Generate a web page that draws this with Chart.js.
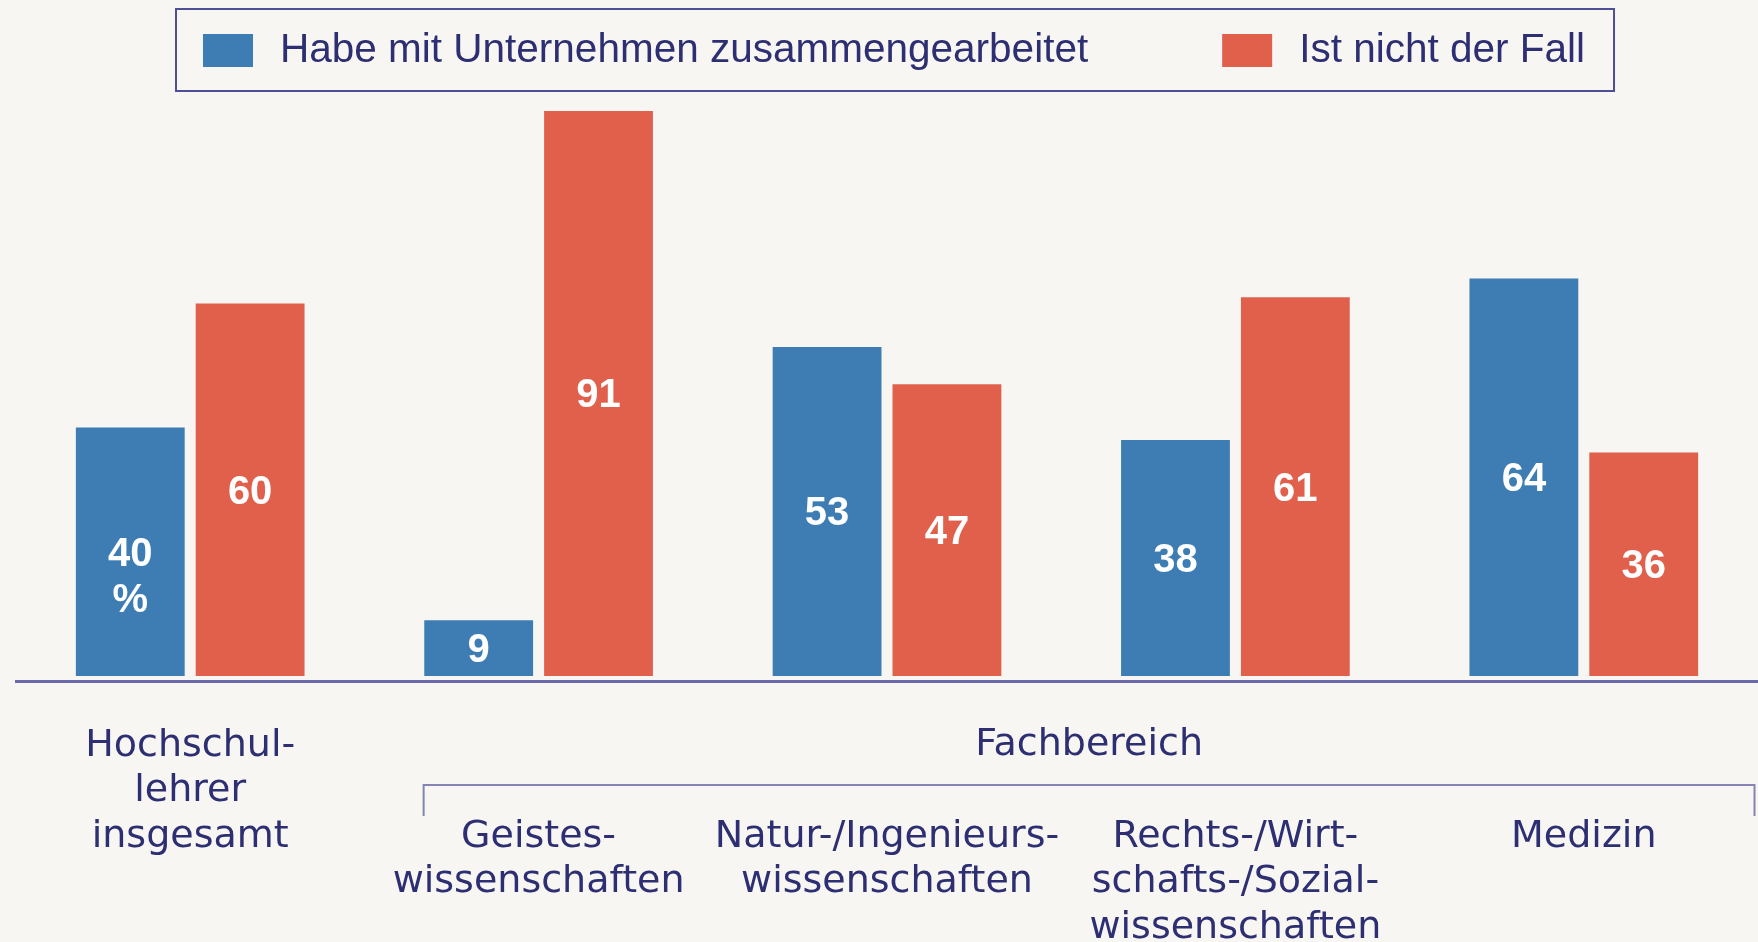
<!DOCTYPE html>
<html>
<head>
<meta charset="utf-8">
<script src="https://cdn.jsdelivr.net/npm/chart.js@4.4.1/dist/chart.umd.min.js"></script>
<style>
html, body { margin: 0; padding: 0; background: #f7f6f2; }
#wrap { width: 1758px; height: 942px; position: relative; }
</style>
</head>
<body>
<div id="wrap"><canvas id="myChart"></canvas></div>
<script>
// data
var categories = [
    ['Hochschul-', 'lehrer', 'insgesamt'],
    ['Geistes-', 'wissenschaften'],
    ['Natur-/Ingenieurs-', 'wissenschaften'],
    ['Rechts-/Wirt-', 'schafts-/Sozial-', 'wissenschaften'],
    ['Medizin']
];
var groupTitle = 'Fachbereich';
var seriesNames = ['Habe mit Unternehmen zusammengearbeitet', 'Ist nicht der Fall'];
var cooperated = [40, 9, 53, 38, 64];
var notCooperated = [60, 91, 47, 61, 36];
var unit = '%';

var blue = '#3d7db3';
var red = '#e0604c';
var navy = '#2d2f72';

// white numbers in the middle of each bar
var barValues = {
    id: 'barValues',
    afterDatasetsDraw: function(chart) {
        var ctx = chart.ctx;
        ctx.save();
        ctx.fillStyle = '#ffffff';
        ctx.font = 'bold 40px "Liberation Sans", Arial, sans-serif';
        ctx.textAlign = 'center';
        ctx.textBaseline = 'middle';
        chart.data.datasets.forEach(function(ds, d) {
            chart.getDatasetMeta(d).data.forEach(function(bar, i) {
                var y = (bar.y + bar.base) / 2 + 3;
                ctx.fillText(ds.data[i], bar.x, y);
                if (d === 0 && i === 0) {
                    ctx.fillText(unit, bar.x, y + 46);
                }
            });
        });
        ctx.restore();
    }
};

// framed legend at the top
var boxLegend = {
    id: 'boxLegend',
    afterDraw: function(chart) {
        var ctx = chart.ctx;
        ctx.save();
        ctx.font = '40.5px "Liberation Sans", Arial, sans-serif';
        ctx.textBaseline = 'middle';
        ctx.textAlign = 'left';
        var x = 203;
        var gap = 134;
        chart.data.datasets.forEach(function(ds, d) {
            ctx.fillStyle = ds.backgroundColor;
            ctx.fillRect(x, 34, 50, 33);
            ctx.fillStyle = navy;
            ctx.fillText(ds.label, x + 77, 51);
            x = x + 77 + ctx.measureText(ds.label).width + gap;
        });
        var right = x - gap + 29;
        ctx.strokeStyle = '#4f4f95';
        ctx.lineWidth = 2;
        ctx.strokeRect(176, 9, right - 176, 82);
        ctx.restore();
    }
};

// "Fachbereich" with bracket over the subject groups
var groupBracket = {
    id: 'groupBracket',
    afterDraw: function(chart) {
        var ctx = chart.ctx;
        var xs = chart.scales.x;
        var w = xs.width / categories.length;
        var left = xs.getPixelForValue(1) - 0.33 * w;
        var right = xs.getPixelForValue(categories.length - 1) + 0.49 * w;
        var top = xs.top + 104;
        ctx.save();
        ctx.strokeStyle = '#8584b5';
        ctx.lineWidth = 2;
        ctx.beginPath();
        ctx.moveTo(left, top + 31);
        ctx.lineTo(left, top);
        ctx.lineTo(right, top);
        ctx.lineTo(right, top + 31);
        ctx.stroke();
        ctx.fillStyle = navy;
        ctx.font = '38px "DejaVu Sans", sans-serif';
        ctx.textAlign = 'center';
        ctx.textBaseline = 'middle';
        ctx.fillText(groupTitle, (left + right) / 2, xs.top + 64);
        ctx.restore();
    }
};

var myChart = document.getElementById('myChart').getContext('2d');

var test = new Chart(myChart, {
    type: 'bar',
    data: {
        labels: categories,
        datasets: [
            {
                label: seriesNames[0],
                data: cooperated,
                backgroundColor: blue
            },
            {
                label: seriesNames[1],
                data: notCooperated,
                backgroundColor: red
            }
        ]
    },
    options: {
        responsive: true,
        maintainAspectRatio: false,
        animation: false,
        categoryPercentage: 0.688,
        barPercentage: 0.908,
        layout: {
            padding: { top: 55, left: 16, right: 0, bottom: 0 }
        },
        scales: {
            x: {
                grid: { display: false, drawTicks: false },
                border: { display: true, color: '#6b69a9', width: 3 },
                ticks: {
                    color: navy,
                    padding: 42,
                    maxRotation: 0,
                    autoSkip: false,
                    font: { family: '"DejaVu Sans", sans-serif', size: 38, lineHeight: 1.2 },
                    callback: function(value, index) {
                        // subject groups sit below the "Fachbereich" bracket
                        return index === 0 ? categories[index] : ['', ''].concat(categories[index]);
                    }
                },
                afterFit: function(scale) {
                    scale.height = 261;
                }
            },
            y: {
                display: false,
                min: -0.8,
                max: 100
            }
        },
        plugins: {
            legend: { display: false },
            tooltip: { enabled: false }
        }
    },
    plugins: [barValues, boxLegend, groupBracket]
});
</script>
</body>
</html>
